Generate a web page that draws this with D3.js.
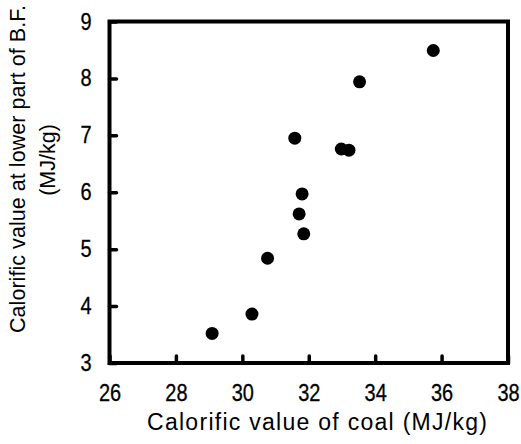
<!DOCTYPE html>
<html>
<head>
<meta charset="utf-8">
<script src="https://cdn.jsdelivr.net/npm/d3@7"></script>
<style>
  body { margin: 0; background: #fff; }
  svg { display: block; }
</style>
</head>
<body>
<svg id="chart"></svg>
<script>
// 1. Data
const coalValue = [29.09, 30.29, 30.76, 31.85, 31.71, 31.80, 31.58, 32.98, 33.21, 33.53, 35.75];
const lowerBFValue = [3.52, 3.86, 4.84, 5.27, 5.62, 5.97, 6.95, 6.76, 6.74, 7.94, 8.49];
const xTicks = [26, 28, 30, 32, 34, 36, 38];
const yTicks = [3, 4, 5, 6, 7, 8, 9];

const points = coalValue.map((d, i) => ({ x: d, y: lowerBFValue[i] }));

// 2. SVG setup
const W = 521, H = 444;
const svg = d3.select("#chart").attr("width", W).attr("height", H);

const margin = { top: 21.5, right: 13, bottom: 81, left: 109.5 };
const width = W - margin.left - margin.right;
const height = H - margin.top - margin.bottom;

const g = svg.append("g")
  .attr("transform", `translate(${margin.left},${margin.top})`);

// 3. Scales
const x = d3.scaleLinear().domain([26, 38]).range([0, width]);
const y = d3.scaleLinear().domain([3, 9]).range([height, 0]);

const fontFamily = "'Liberation Sans', Arial, sans-serif";

// 4. Axes with inward ticks
const xAxis = g.append("g")
  .attr("transform", `translate(0,${height})`)
  .call(d3.axisBottom(x).tickValues(xTicks).tickFormat(d3.format("d"))
    .tickSizeInner(-7).tickSizeOuter(0).tickPadding(21));

const yAxis = g.append("g")
  .call(d3.axisLeft(y).tickValues(yTicks).tickFormat(d3.format("d"))
    .tickSizeInner(-7).tickSizeOuter(0).tickPadding(21));

[xAxis, yAxis].forEach((ax) => {
  ax.select(".domain").remove();
  ax.selectAll(".tick line")
    .attr("stroke", "#000")
    .attr("stroke-width", 3.5)
    .attr("stroke-linecap", "round");
  // digits in the picture are tall and narrow, so squeeze them a bit
  ax.selectAll(".tick text")
    .attr("fill", "#000")
    .attr("stroke", "#000")
    .attr("stroke-width", 0.3)
    .attr("transform", "scale(0.85,1)")
    .style("font-family", fontFamily)
    .style("font-size", "23.5px");
});

// 5. Frame
g.append("rect")
  .attr("x", 0)
  .attr("y", 0)
  .attr("width", width)
  .attr("height", height)
  .attr("fill", "none")
  .attr("stroke", "#000")
  .attr("stroke-width", 4);

// 6. Points
g.selectAll("circle.pt")
  .data(points)
  .enter()
  .append("circle")
  .attr("class", "pt")
  .attr("cx", (d) => x(d.x))
  .attr("cy", (d) => y(d.y))
  .attr("r", 6.5)
  .attr("fill", "#000");

// 7. Axis titles
svg.append("text")
  .attr("x", 317)
  .attr("y", 429.5)
  .attr("text-anchor", "middle")
  .style("font-family", fontFamily)
  .style("font-size", "23px")
  .attr("textLength", 340)
  .attr("lengthAdjust", "spacing")
  .text("Calorific value of coal (MJ/kg)");

svg.append("text")
  .attr("transform", "rotate(-90)")
  .attr("x", -169)
  .attr("y", 25)
  .attr("text-anchor", "middle")
  .style("font-family", fontFamily)
  .style("font-size", "21.5px")
  .attr("textLength", 328)
  .attr("lengthAdjust", "spacing")
  .text("Calorific value at lower part of B.F.");

svg.append("text")
  .attr("transform", "rotate(-90)")
  .attr("x", -160)
  .attr("y", 55)
  .attr("text-anchor", "middle")
  .style("font-family", fontFamily)
  .style("font-size", "21.5px")
  .text("(MJ/kg)");
</script>
</body>
</html>
